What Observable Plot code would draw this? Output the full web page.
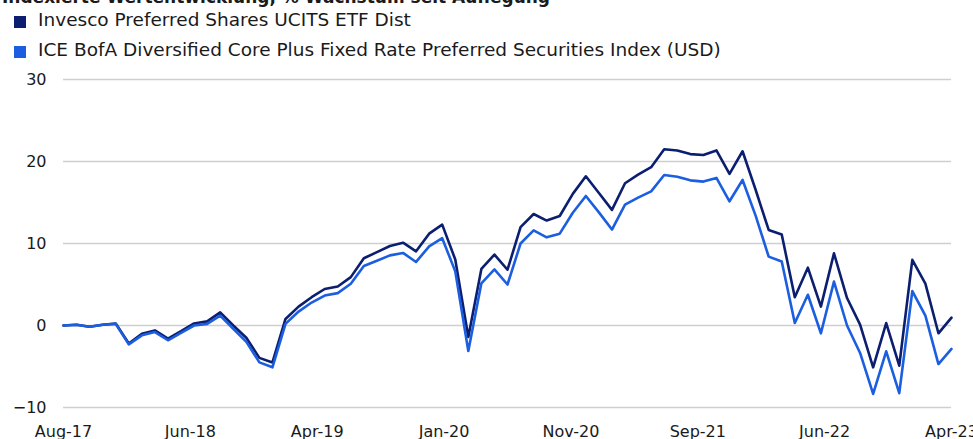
<!DOCTYPE html>
<html>
<head>
<meta charset="utf-8">
<script src="https://cdn.jsdelivr.net/npm/d3@7"></script>
<script src="https://cdn.jsdelivr.net/npm/@observablehq/plot@0.6"></script>
<style>
  body { margin: 0; background: #fff; font-family: "DejaVu Sans", sans-serif; color: #1a1a1a; }
  #wrap { position: relative; width: 973px; height: 439px; overflow: hidden; background: #fff; }
  #title { position: absolute; left: 2px; top: -11px; font-size: 17px; line-height: 17px; font-weight: bold; white-space: nowrap; }
  .lg { position: absolute; left: 38px; font-size: 18.5px; line-height: 18px; white-space: nowrap; }
  .sw { position: absolute; left: 14px; width: 12px; height: 12px; }
  #chart { position: absolute; left: 0; top: 60px; }
</style>
</head>
<body>
<div id="wrap">
  <div id="title"></div>
  <div class="sw" id="sw1" style="top:16px"></div>
  <div class="lg" id="lg1" style="top:11px"></div>
  <div class="sw" id="sw2" style="top:46px"></div>
  <div class="lg" id="lg2" style="top:41px"></div>
  <div id="chart"></div>
</div>
<script>
// ---- data ----
const titleText = "Indexierte Wertentwicklung, % Wachstum seit Auflegung";
const seriesNames = [
  "Invesco Preferred Shares UCITS ETF Dist",
  "ICE BofA Diversified Core Plus Fixed Rate Preferred Securities Index (USD)"
];
const seriesColors = ["#0b1e70", "#1b5ee0"];
// monthly, Aug-17 .. Apr-23
const etfValues = [
  0, 0.1, -0.15, 0.1, 0.25, -2.2, -1.0, -0.6, -1.6, -0.7,
  0.25, 0.5, 1.6, 0.0, -1.5, -3.95, -4.5, 0.8, 2.3, 3.45,
  4.45, 4.75, 5.9, 8.2, 8.95, 9.7, 10.1, 9.05, 11.2, 12.3,
  8.05, -1.4, 6.9, 8.65, 6.8, 12.0, 13.6, 12.8, 13.35, 16.05,
  18.2, 16.15, 14.1, 17.35, 18.4, 19.3, 21.5, 21.35, 20.9, 20.8,
  21.35, 18.5, 21.25, 16.55, 11.65, 11.1, 3.45, 7.05, 2.3, 8.8,
  3.35, 0.1, -5.1, 0.3, -4.9, 8.0, 5.1, -0.95, 0.95
];
const indexValues = [
  0, 0.1, -0.15, 0.1, 0.2, -2.3, -1.2, -0.8, -1.8, -0.9,
  0.0, 0.2, 1.2, -0.4, -2.0, -4.5, -5.1, 0.2, 1.7, 2.8,
  3.65, 3.95, 5.1, 7.25, 7.9, 8.55, 8.85, 7.75, 9.65, 10.65,
  6.6, -3.1, 5.15, 6.85, 5.0, 10.0, 11.6, 10.75, 11.2, 13.75,
  15.8, 13.8, 11.7, 14.75, 15.6, 16.35, 18.35, 18.15, 17.7, 17.55,
  18.0, 15.15, 17.75, 13.4, 8.4, 7.8, 0.3, 3.75, -0.95, 5.35,
  0.0, -3.35, -8.35, -3.15, -8.25, 4.2, 1.2, -4.7, -2.85
];
const xTickLabels = ["Aug-17", "Jun-18", "Apr-19", "Jan-20", "Nov-20", "Sep-21", "Jun-22", "Apr-23"];
const yTicks = [-10, 0, 10, 20, 30];

// ---- header ----
document.getElementById("title").textContent = titleText;
document.getElementById("lg1").textContent = seriesNames[0];
document.getElementById("lg2").textContent = seriesNames[1];
document.getElementById("sw1").style.background = seriesColors[0];
document.getElementById("sw2").style.background = seriesColors[1];

// ---- chart ----
const n = etfValues.length;
const etfRows = etfValues.map((v, i) => ({i, v}));
const idxRows = indexValues.map((v, i) => ({i, v}));
const step = (n - 1) / (xTickLabels.length - 1);
const xTickPos = xTickLabels.map((_, k) => k * step);

const chart = Plot.plot({
  width: 973,
  height: 379,
  marginTop: 19,
  marginBottom: 32,
  marginLeft: 63,
  marginRight: 22,
  style: { fontFamily: "DejaVu Sans, sans-serif", fontSize: "16px", color: "#1a1a1a", background: "transparent" },
  x: {
    type: "linear",
    domain: [0, n - 1],
    ticks: xTickPos,
    tickFormat: d => xTickLabels[Math.round(d / step)],
    tickSize: 0,
    tickPadding: 18,
    label: null
  },
  y: {
    domain: [-10, 30],
    ticks: yTicks,
    tickSize: 0,
    tickPadding: 17,
    label: null
  },
  marks: [
    Plot.ruleY(yTicks, { stroke: "#cfcfcf", strokeWidth: 1.6 }),
    Plot.line(etfRows, { x: "i", y: "v", stroke: seriesColors[0], strokeWidth: 2.6 }),
    Plot.line(idxRows, { x: "i", y: "v", stroke: seriesColors[1], strokeWidth: 2.6 })
  ]
});
document.getElementById("chart").appendChild(chart);
</script>
</body>
</html>
